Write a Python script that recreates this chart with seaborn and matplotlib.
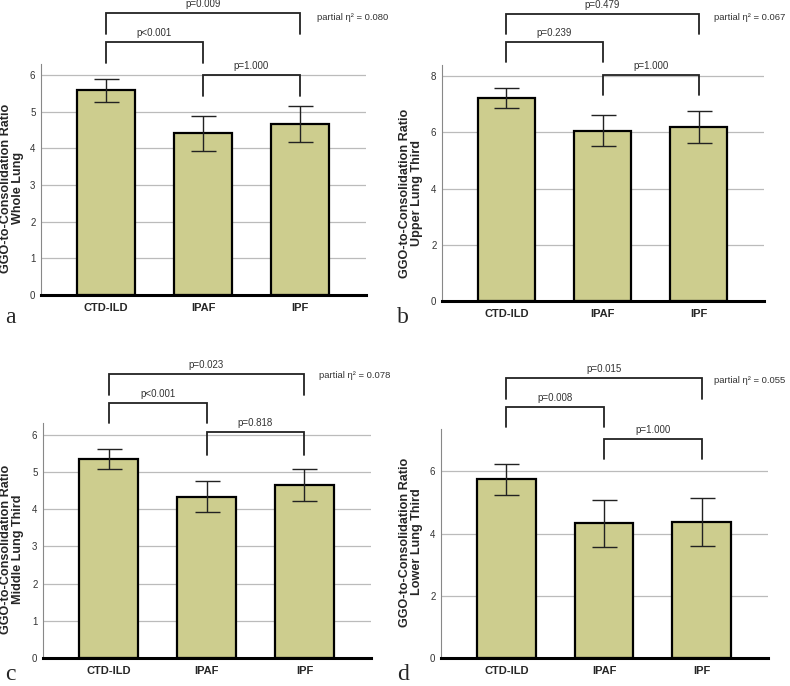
import matplotlib
matplotlib.use("Agg")
import matplotlib.pyplot as plt
import seaborn as sns
import pandas as pd
import numpy as np

sns.set_style("white")
plt.rcParams['font.family'] = ['Liberation Sans', 'DejaVu Sans']

categories = ["CTD-ILD", "IPAF", "IPF"]

# means, lower CI, upper CI per panel
whole_mean = [5.60, 4.41, 4.67]
whole_lo = [5.27, 3.93, 4.17]
whole_hi = [5.90, 4.88, 5.16]

upper_mean = [7.23, 6.06, 6.19]
upper_lo = [6.87, 5.51, 5.62]
upper_hi = [7.58, 6.61, 6.75]

middle_mean = [5.36, 4.33, 4.66]
middle_lo = [5.08, 3.92, 4.23]
middle_hi = [5.63, 4.75, 5.08]

lower_mean = [5.75, 4.33, 4.38]
lower_lo = [5.23, 3.58, 3.60]
lower_hi = [6.23, 5.09, 5.15]

ylabels = ["GGO-to-Consolidation Ratio\nWhole Lung",
           "GGO-to-Consolidation Ratio\nUpper Lung Third",
           "GGO-to-Consolidation Ratio\nMiddle Lung Third",
           "GGO-to-Consolidation Ratio\nLower Lung Third"]
panel_letters = ["a", "b", "c", "d"]
eta_texts = ["partial η² = 0.080", "partial η² = 0.067",
             "partial η² = 0.078", "partial η² = 0.055"]
# p-values: (CTD-ILD vs IPF, CTD-ILD vs IPAF, IPAF vs IPF)
pvals = [["p=0.009", "p<0.001", "p=1.000"],
         ["p=0.479", "p=0.239", "p=1.000"],
         ["p=0.023", "p<0.001", "p=0.818"],
         ["p=0.015", "p=0.008", "p=1.000"]]
# bracket top / leg bottom in data units
brackets = [[(7.68, 7.13), (6.91, 6.34), (6.01, 5.44)],
            [(10.23, 9.51), (9.23, 8.50), (8.06, 7.32)],
            [(7.63, 7.08), (6.87, 6.32), (6.07, 5.45)],
            [(9.00, 8.33), (8.07, 7.42), (7.04, 6.38)]]
ylims = [6.3, 8.4, 6.32, 7.36]
yticks = [np.arange(0, 7, 1), np.arange(0, 9, 2), np.arange(0, 7, 1), np.arange(0, 7, 2)]

# axes boxes in pixel coordinates: left, right, top, bottom
W, H = 790, 686
boxes = [(41, 366, 64, 295), (442, 764, 65, 301), (43, 371, 423, 658), (441, 768, 429, 658)]
ylabel_pos = [(12, 188), (411, 193), (12, 549), (411, 542)]

means = [whole_mean, upper_mean, middle_mean, lower_mean]
los = [whole_lo, upper_lo, middle_lo, lower_lo]
his = [whole_hi, upper_hi, middle_hi, lower_hi]

fig = plt.figure(figsize=(W / 100, H / 100), dpi=100)
bar_color = "#CDCD8E"

for i in range(4):
    l, r, t, b = boxes[i]
    ax = fig.add_axes([l / W, 1 - b / H, (r - l) / W, (b - t) / H])
    df = pd.DataFrame({"group": categories, "value": means[i]})
    sns.barplot(data=df, x="group", y="value", color=bar_color, width=0.6,
                edgecolor="black", linewidth=1.6, saturation=1, ax=ax, zorder=3)
    m = np.array(means[i]); lo = np.array(los[i]); hi = np.array(his[i])
    ax.errorbar(np.arange(3), m, yerr=[m - lo, hi - m], fmt="none",
                ecolor="#222222", elinewidth=1.0, capsize=9, capthick=1.0, zorder=4)
    ax.set_xlim(-0.67, 2.68)
    ax.set_ylim(0, ylims[i])
    ax.set_yticks(yticks[i])
    ax.set_yticklabels([str(int(v)) for v in yticks[i]], fontsize=7, color="#333333")
    ax.yaxis.grid(True, color="#BBBBBB", linewidth=0.9, zorder=0)
    ax.set_axisbelow(True)
    ax.tick_params(axis="y", length=0, pad=4)
    ax.tick_params(axis="x", length=0, pad=6)
    for lab in ax.get_xticklabels():
        lab.set_fontweight("bold")
        lab.set_fontsize(8)
    ax.set_xlabel("")
    ax.set_ylabel("")
    lxp, lyp = ylabel_pos[i]
    fig.text(lxp / W, 1 - lyp / H, ylabels[i], rotation=90, ha="center", va="center",
             multialignment="center", fontsize=9.1, fontweight="bold", linespacing=0.9)
    for s in ["top", "right"]:
        ax.spines[s].set_visible(False)
    ax.spines["left"].set_color("#888888")
    ax.spines["left"].set_linewidth(0.8)
    ax.spines["bottom"].set_color("black")
    ax.spines["bottom"].set_linewidth(2.2)
    ax.spines["bottom"].set_zorder(5)

    pairs = [(0, 2), (0, 1), (1, 2)]
    for (x0, x1), (top, leg), txt in zip(pairs, brackets[i], pvals[i]):
        ax.plot([x0, x0, x1, x1], [leg, top, top, leg], color="#222222",
                linewidth=1.3, clip_on=False, solid_joinstyle="miter")
        span = ylims[i] / ((b - t))
        ax.text((x0 + x1) / 2, top + 4 * span, txt, ha="center", va="bottom",
                fontsize=7, color="#333333", clip_on=False)
    # partial eta
    ex = [353, 750, 355, 750][i]
    ey = [17, 17, 375, 380][i]
    fig.text(ex / W, 1 - ey / H, eta_texts[i], ha="center", va="center",
             fontsize=6.8, color="#333333")
    lx = [10, 403, 10, 403][i]
    ly = [317, 317, 675, 675][i]
    fig.text(lx / W, 1 - ly / H, panel_letters[i], ha="center", va="center",
             fontsize=17, family=["Liberation Serif", "DejaVu Serif"])

fig.savefig("out.png", dpi=100, facecolor="white")
